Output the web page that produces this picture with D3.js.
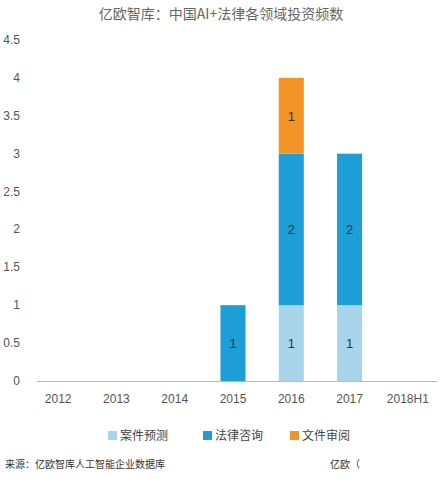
<!DOCTYPE html><html><head><meta charset="utf-8">
<script src="https://cdn.jsdelivr.net/npm/d3@7"></script>
<style>body{margin:0;background:#fff;font-family:"Noto Sans CJK SC","Noto Sans",sans-serif}</style></head><body>
<svg id="c" width="442" height="479"></svg>
<script>
const categories=["2012","2013","2014","2015","2016","2017","2018H1"];
const seriesNames=["案件预测","法律咨询","文件审阅"];
const caseForecast=[0,0,0,0,1,1,0];
const legalConsult=[0,0,0,1,2,2,0];
const docReview=[0,0,0,0,1,0,0];
const yTicks=[0,0.5,1,1.5,2,2.5,3,3.5,4,4.5];
const colors=["#a8d5ea","#1d9ed6","#f39325"];
const svg=d3.select("#c");
const x=d3.scaleBand().domain(categories).range([29,437]).paddingInner(0.57).paddingOuter(0.285);
const y=d3.scaleLinear().domain([0,4.5]).range([381,40]);
svg.append("text").attr("x",221).attr("y",19).attr("text-anchor","middle").attr("font-size",14).attr("fill","#666").text("亿欧智库：中国AI+法律各领域投资频数");
svg.append("g").selectAll("text").data(yTicks).join("text").attr("x",20).attr("y",d=>y(d)+4).attr("text-anchor","end").attr("font-size",12).attr("fill","#555").attr("font-family","Arial,Liberation Sans").text(d=>d);
const data=categories.map((c,i)=>({cat:c,"案件预测":caseForecast[i],"法律咨询":legalConsult[i],"文件审阅":docReview[i]}));
const stack=d3.stack().keys(seriesNames)(data);
stack.forEach((s,k)=>{
 const g=svg.append("g");
 g.selectAll("rect").data(s).join("rect").attr("x",d=>x(d.data.cat)).attr("width",x.bandwidth()).attr("y",d=>y(d[1])).attr("height",d=>y(d[0])-y(d[1])).attr("fill",colors[k]);
 g.selectAll("text").data(s.filter(d=>d[1]>d[0])).join("text").attr("x",d=>x(d.data.cat)+x.bandwidth()/2).attr("y",d=>(y(d[0])+y(d[1]))/2+5).attr("text-anchor","middle").attr("font-size",13).attr("fill","#333").attr("font-family","Arial,Liberation Sans").text(d=>d[1]-d[0]);
});
svg.append("line").attr("x1",37).attr("x2",437).attr("y1",381.5).attr("y2",381.5).attr("stroke","#bbb");
svg.append("g").selectAll("text").data(categories).join("text").attr("x",d=>x(d)+x.bandwidth()/2).attr("y",403).attr("text-anchor","middle").attr("font-size",12).attr("fill","#555").attr("font-family","Arial,Liberation Sans").text(d=>d);
const lx=[108,203,290];
seriesNames.forEach((n,i)=>{
 svg.append("rect").attr("x",lx[i]).attr("y",431).attr("width",9).attr("height",9).attr("fill",colors[i]);
 svg.append("text").attr("x",lx[i]+12).attr("y",440).attr("font-size",12).attr("fill","#444").text(n);
});
svg.append("text").attr("x",5).attr("y",468).attr("font-size",10).attr("fill","#333").text("来源：亿欧智库人工智能企业数据库");
svg.append("text").attr("x",330).attr("y",468).attr("font-size",10).attr("fill","#333").text("亿欧（");
</script></body></html>
